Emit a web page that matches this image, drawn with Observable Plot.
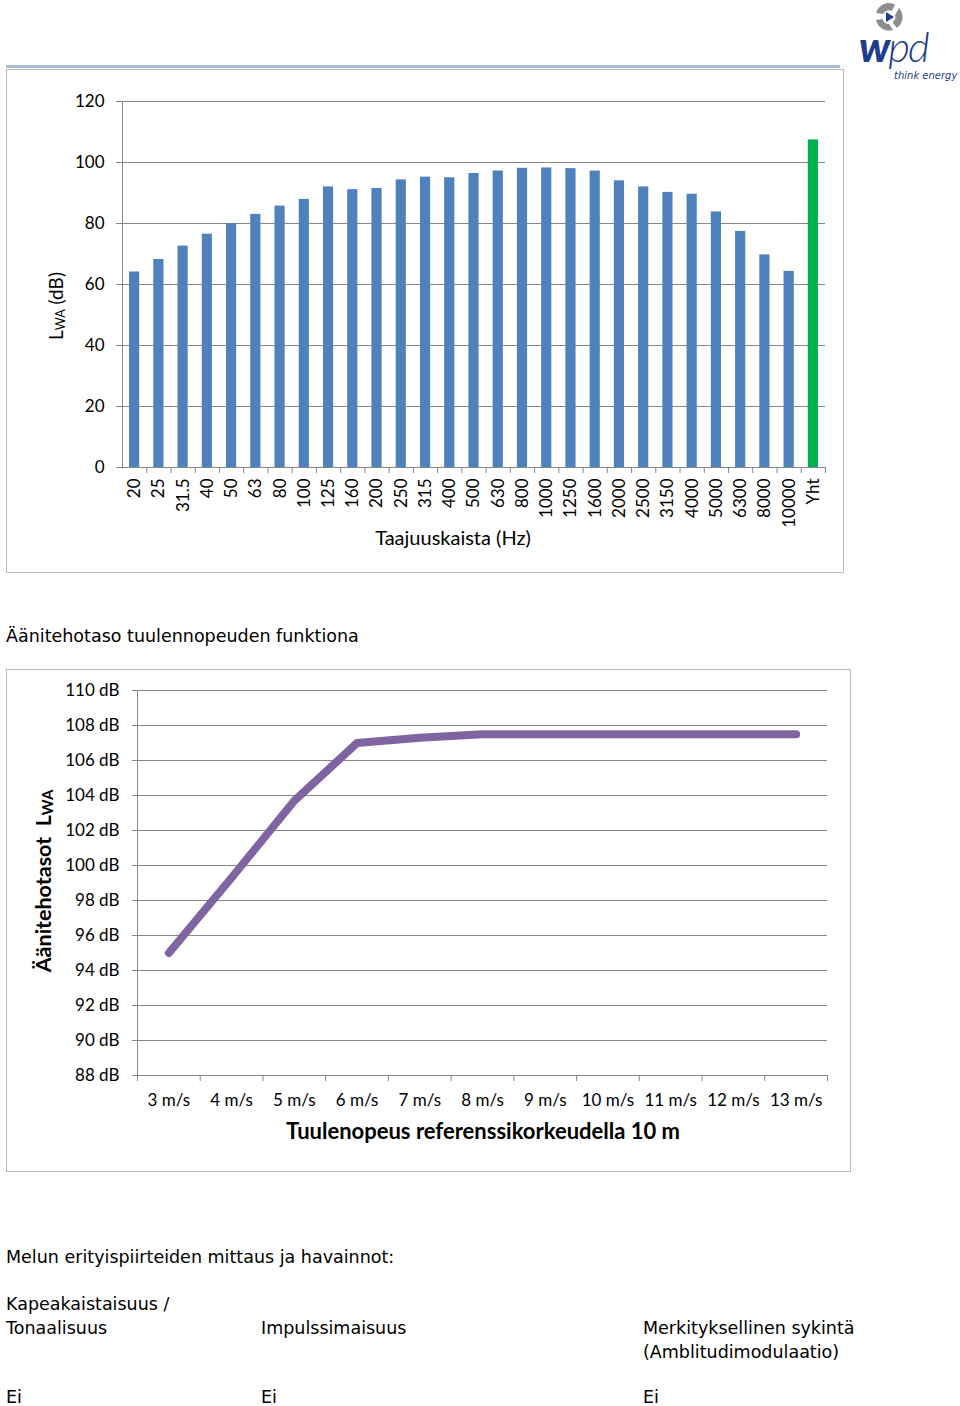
<!DOCTYPE html>
<html>
<head>
<meta charset="utf-8">
<script src="https://cdn.jsdelivr.net/npm/d3@7"></script>
<script src="https://cdn.jsdelivr.net/npm/@observablehq/plot@0.6"></script>
<style>
  body { margin: 0; background: #fff; }
  #page { position: relative; width: 960px; height: 1406px; overflow: hidden; font-family: "DejaVu Sans", Verdana, sans-serif; color: #000; }
  .abs { position: absolute; }
  .txt { position: absolute; font-size: 17.5px; line-height: 23.5px; white-space: nowrap; }
  .box { position: absolute; box-sizing: border-box; border: 1px solid #bcbcbc; }
  #topline { position: absolute; left: 6px; top: 65px; width: 834px; height: 3px; background: #a9bdd3; }
  svg.plot { position: absolute; }
</style>
</head>
<body>
<div id="page">
  <div id="topline"></div>
  <div class="box" style="left:6px; top:69px; width:838px; height:504px;"></div>
  <div id="chart1" class="abs" style="left:6px; top:69px;"></div>

  <div class="txt" style="left:6px; top:625px;">Äänitehotaso tuulennopeuden funktiona</div>

  <div class="box" style="left:6px; top:669px; width:845px; height:503px;"></div>
  <div id="chart2" class="abs" style="left:6px; top:669px;"></div>

  <div class="txt" style="left:6px; top:1246px;">Melun erityispiirteiden mittaus ja havainnot:</div>
  <div class="txt" style="left:6px; top:1293px;">Kapeakaistaisuus /<br>Tonaalisuus</div>
  <div class="txt" style="left:261px; top:1317px;">Impulssimaisuus</div>
  <div class="txt" style="left:643px; top:1317px;">Merkityksellinen sykintä<br>(Amblitudimodulaatio)</div>
  <div class="txt" style="left:6px; top:1386px;">Ei</div>
  <div class="txt" style="left:261px; top:1386px;">Ei</div>
  <div class="txt" style="left:643px; top:1386px;">Ei</div>

  <svg class="abs" style="left:846px; top:0px;" width="114" height="86" viewBox="0 0 114 86">
    <g transform="translate(43,17)">
      <path d="M -13 -4 A 13.5 13.5 0 0 1 6 -12.5 L 3 -6 A 7 7 0 0 0 -6 -3 Z" fill="#8e8e8e"/>
      <path d="M 10 -9 A 13.5 13.5 0 0 1 8 11 L 3.5 5.5 A 7 7 0 0 0 6 -2 Z" fill="#8e8e8e"/>
      <path d="M 4 13 A 13.5 13.5 0 0 1 -13 3 L -6.5 2 A 7 7 0 0 0 0 7 Z" fill="#8e8e8e"/>
      <path d="M -3 -5 L 5 0 L -3 5 Z" fill="#1f3d8a"/>
    </g>
    <text x="13" y="62" font-family="Lato" font-style="italic" font-size="42" fill="#1f3d8a" letter-spacing="-2"><tspan font-weight="900">w</tspan><tspan font-weight="300">pd</tspan></text>
    <text x="48" y="79" font-family="DejaVu Sans" font-style="italic" font-size="10" fill="#1f3d8a">think energy</text>
  </svg>
</div>
<script>
// ---- Chart 1: sound power level per third-octave band ----
const bands = ["20","25","31.5","40","50","63","80","100","125","160","200","250","315","400","500","630","800","1000","1250","1600","2000","2500","3150","4000","5000","6300","8000","10000","Yht"];
const levels = [64.1,68.2,72.6,76.5,80.0,83.0,85.7,87.9,92.0,91.1,91.5,94.3,95.2,95.0,96.4,97.2,98.1,98.2,98.0,97.2,94.0,92.0,90.2,89.6,83.8,77.4,69.7,64.3,107.4];
const totalBand = "Yht";
const yTicks1 = [0,20,40,60,80,100,120];

// ---- Chart 2: sound power level vs. wind speed ----
const speeds = [3,4,5,6,7,8,9,10,11,12,13];
const lwa = [95.0,99.3,103.7,107.0,107.3,107.5,107.5,107.5,107.5,107.5,107.5];
const yTicks2 = [88,90,92,94,96,98,100,102,104,106,108,110];

const gridColor = "#878787";
const noLabel = () => "";

// chart 1
const W1 = 837, H1 = 503, ML1 = 116, MR1 = 18, MT1 = 32, MB1 = 105;
const step1 = (W1 - ML1 - MR1) / bands.length;
const rows1 = bands.map((b, i) => ({band: b, level: levels[i], total: b === totalBand}));

const chart1 = Plot.plot({
  width: W1, height: H1,
  marginLeft: ML1, marginRight: MR1, marginTop: MT1, marginBottom: MB1,
  style: {fontFamily: "Lato", fontSize: "17px", color: "#000", background: "transparent", overflow: "visible"},
  x: {domain: bands, paddingInner: 0.58, paddingOuter: 0.29, round: false, label: null},
  y: {domain: [0, 120], label: null},
  marks: [
    Plot.gridY(yTicks1, {stroke: gridColor, strokeOpacity: 1}),
    Plot.axisY({ticks: yTicks1, tickSize: 6, tickPadding: 12, stroke: gridColor, strokeOpacity: 1, label: null}),
    Plot.barY(rows1, {filter: d => !d.total, x: "band", y: "level", fill: "#4f81bd"}),
    Plot.barY(rows1, {filter: d => d.total, x: "band", y: "level", fill: "#00b050"}),
    Plot.ruleY([0], {stroke: gridColor}),
    Plot.frame({anchor: "left", stroke: gridColor}),
    Plot.axisX({tickSize: 0, tickRotate: -90, tickPadding: 11, label: null}),
    Plot.axisX({tickSize: 6, tickFormat: noLabel, dx: step1 / 2, stroke: gridColor, strokeOpacity: 1, label: null})
  ]
});
document.getElementById("chart1").appendChild(chart1);
{
  const s = d3.select(chart1);
  const yt = s.append("text")
    .attr("transform", "translate(52,237) rotate(-90)")
    .attr("text-anchor", "middle")
    .attr("dominant-baseline", "middle")
    .attr("font-family", "Lato").attr("font-size", 19).attr("fill", "#000");
  yt.append("tspan").text("L");
  yt.append("tspan").attr("font-size", 12.5).attr("dy", 4).text("WA");
  yt.append("tspan").attr("dy", -4).text(" (dB)");
  s.append("text")
    .attr("x", 447).attr("y", 471)
    .attr("text-anchor", "middle").attr("dominant-baseline", "middle")
    .attr("font-family", "Lato").attr("font-size", 20).attr("fill", "#000")
    .text("Taajuuskaista (Hz)");
}

// chart 2
const W2 = 844, H2 = 502;
const rows2 = speeds.map((s, i) => ({speed: s, lwa: lwa[i]}));
const bounds2 = speeds.map(s => s - 0.5).concat([speeds[speeds.length - 1] + 0.5]);

const chart2 = Plot.plot({
  width: W2, height: H2,
  marginLeft: 131, marginRight: 23, marginTop: 21, marginBottom: 96,
  style: {fontFamily: "Lato", fontSize: "17px", color: "#000", background: "transparent", overflow: "visible"},
  x: {domain: [bounds2[0], bounds2[bounds2.length - 1]], label: null},
  y: {domain: [88, 110], label: null},
  marks: [
    Plot.gridY(yTicks2, {stroke: gridColor, strokeOpacity: 1}),
    Plot.axisY({ticks: yTicks2, tickFormat: d => `${d} dB`, tickSize: 5, tickPadding: 13, stroke: gridColor, strokeOpacity: 1, label: null}),
    Plot.frame({anchor: "left", stroke: gridColor}),
    Plot.ruleY([88], {stroke: gridColor}),
    Plot.axisX({ticks: speeds, tickFormat: d => `${d} m/s`, tickSize: 0, tickPadding: 18, label: null}),
    Plot.axisX({ticks: bounds2, tickFormat: noLabel, tickSize: 6, stroke: gridColor, strokeOpacity: 1, label: null}),
    Plot.line(rows2, {x: "speed", y: "lwa", stroke: "#8064a2", strokeWidth: 8, strokeLinecap: "round", strokeLinejoin: "round"})
  ]
});
document.getElementById("chart2").appendChild(chart2);
{
  const s = d3.select(chart2);
  const yt = s.append("text")
    .attr("transform", "translate(39,212) rotate(-90)")
    .attr("text-anchor", "middle")
    .attr("dominant-baseline", "middle")
    .attr("font-family", "Lato").attr("font-weight", "bold").attr("font-size", 21.5).attr("fill", "#000");
  yt.append("tspan").text("Äänitehotasot  L");
  yt.append("tspan").attr("font-size", 15).attr("dy", 4).text("WA");
  s.append("text")
    .attr("x", 477).attr("y", 464)
    .attr("text-anchor", "middle").attr("dominant-baseline", "middle")
    .attr("font-family", "Lato").attr("font-weight", "bold").attr("font-size", 22).attr("fill", "#000")
    .text("Tuulenopeus referenssikorkeudella 10 m");
}
</script>
</body>
</html>
